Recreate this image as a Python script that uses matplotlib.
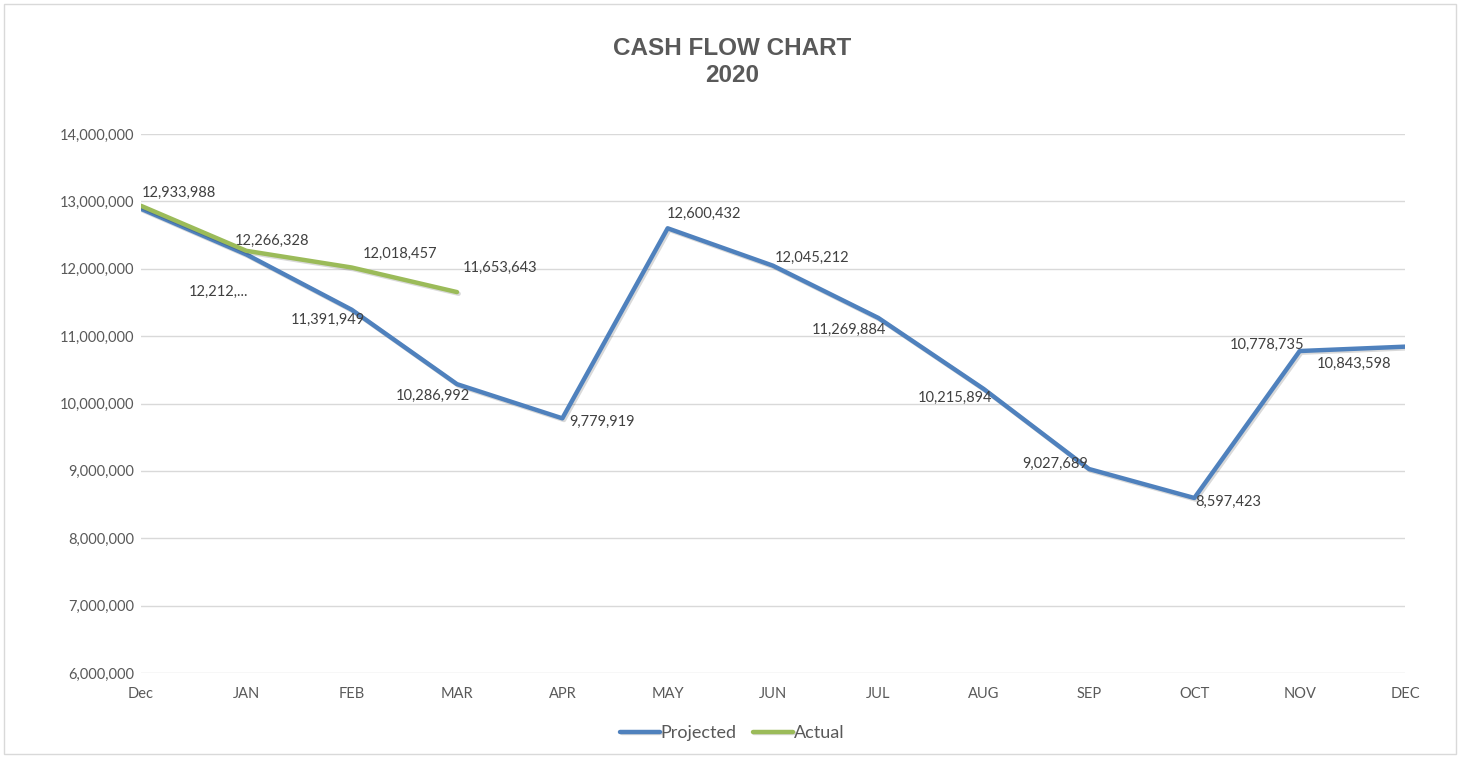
import matplotlib.pyplot as plt
import matplotlib.patheffects as pe
from matplotlib.patches import Rectangle
from matplotlib.ticker import FuncFormatter

months = ["Dec", "JAN", "FEB", "MAR", "APR", "MAY", "JUN", "JUL", "AUG", "SEP", "OCT", "NOV", "DEC"]
projected = [12890000, 12212500, 11391949, 10286992, 9779919, 12600432, 12045212,
             11269884, 10215894, 9027689, 8597423, 10778735, 10843598]
actual = [12933988, 12266328, 12018457, 11653643]

# label text and pixel offset (dx, dy) for each point, None = no label
proj_labels = [None, "12,212,...", "11,391,949", "10,286,992", "9,779,919", "12,600,432",
               "12,045,212", "11,269,884", "10,215,894", "9,027,689", "8,597,423",
               "10,778,735", "10,843,598"]
proj_offsets = [None, (-28, -37), (-24, -10), (-24, -12), (40, -4), (36, 14), (39, 8),
                (-29, -12), (-29, -9), (-34, 5), (34, -4), (-33, 6), (-51, -17)]
act_offsets = [(38, 13), (26, 10), (48, 14), (43, 24)]

blue = "#4F81BD"
green = "#9BBB59"
txt = "#404040"

plt.rcParams['font.family'] = ['Lato', 'DejaVu Sans']

fig = plt.figure(figsize=(14.64, 7.58), dpi=100)
ax = fig.add_axes([141 / 1464, 85 / 758, 1264 / 1464, 539 / 758])

x = list(range(len(months)))
shadow = [pe.SimpleLineShadow(offset=(1.2, -1.2), alpha=0.15), pe.Normal()]
ax.plot(x, projected, color=blue, lw=3.2, label="Projected", path_effects=shadow,
        solid_capstyle="round", zorder=3)
ax.plot(x[:len(actual)], actual, color=green, lw=3.2, label="Actual", path_effects=shadow,
        solid_capstyle="round", zorder=4)

for i, lab in enumerate(proj_labels):
    if lab is None:
        continue
    ax.annotate(lab, (x[i], projected[i]), xytext=proj_offsets[i], textcoords="offset pixels",
                ha="center", va="center", fontsize=10.5, color=txt)
for i, v in enumerate(actual):
    ax.annotate(f"{v:,}", (x[i], v), xytext=act_offsets[i], textcoords="offset pixels",
                ha="center", va="center", fontsize=10.5, color=txt)

ax.set_xlim(0, len(months) - 1)
ax.set_ylim(6000000, 14000000)
ax.set_yticks(range(6000000, 14000001, 1000000))
ax.yaxis.set_major_formatter(FuncFormatter(lambda v, p: f"{int(v):,}"))
ax.set_xticks(x)
ax.set_xticklabels(months)
ax.tick_params(length=0, labelsize=10.5, labelcolor="#595959")
ax.tick_params(axis="x", pad=10)
ax.tick_params(axis="y", pad=5)
ax.grid(axis="y", color="#D9D9D9", lw=1)
ax.set_axisbelow(True)
for s in ax.spines.values():
    s.set_visible(False)

fig.text(0.5, 0.918, "CASH FLOW CHART\n2020", ha="center", va="center", fontsize=17.5,
         fontweight="bold", color="#595959", family="Liberation Sans", linespacing=1.25)

fig.legend(loc="center", bbox_to_anchor=(0.5, 25 / 758), ncol=2, frameon=False,
           fontsize=13, labelcolor="#595959", handlelength=2.2, handletextpad=0.05,
           columnspacing=0.9)

fig.patches.append(Rectangle((4 / 1464, 4 / 758), 1452 / 1464, 750 / 758, transform=fig.transFigure,
                             fill=False, edgecolor="#D9D9D9", lw=1))

fig.savefig("out.png", dpi=100)
